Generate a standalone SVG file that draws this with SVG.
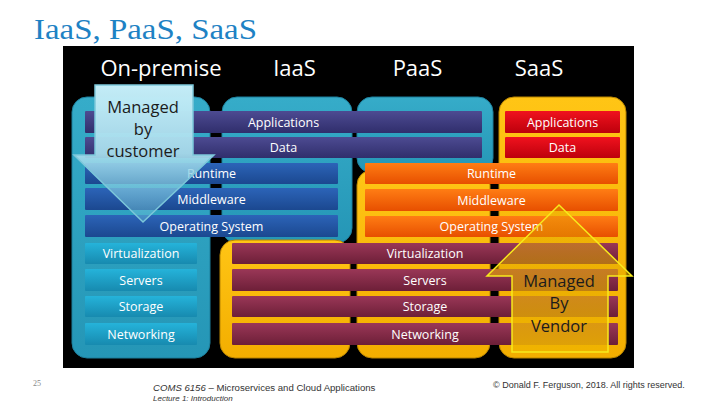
<svg xmlns="http://www.w3.org/2000/svg" width="720" height="405" viewBox="0 0 720 405">
<defs>
<linearGradient id="gTealBox" x1="0" y1="0" x2="0" y2="1"><stop offset="0" stop-color="#36acc9"/><stop offset="1" stop-color="#2596b6"/></linearGradient>
<linearGradient id="gYellowBox" x1="0" y1="0" x2="0" y2="1"><stop offset="0" stop-color="#ffc515"/><stop offset="1" stop-color="#f3ae00"/></linearGradient>
<linearGradient id="gPurple" x1="0" y1="0" x2="0" y2="1"><stop offset="0" stop-color="#4d4b92"/><stop offset="1" stop-color="#302e6c"/></linearGradient>
<linearGradient id="gBlue" x1="0" y1="0" x2="0" y2="1"><stop offset="0" stop-color="#2c64b8"/><stop offset="1" stop-color="#1b4890"/></linearGradient>
<linearGradient id="gTealBar" x1="0" y1="0" x2="0" y2="1"><stop offset="0" stop-color="#25b3da"/><stop offset="1" stop-color="#178aaf"/></linearGradient>
<linearGradient id="gOrange" x1="0" y1="0" x2="0" y2="1"><stop offset="0" stop-color="#ff7d14"/><stop offset="1" stop-color="#e74f00"/></linearGradient>
<linearGradient id="gRed" x1="0" y1="0" x2="0" y2="1"><stop offset="0" stop-color="#f0121e"/><stop offset="1" stop-color="#bd000c"/></linearGradient>
<linearGradient id="gMaroon" x1="0" y1="0" x2="0" y2="1"><stop offset="0" stop-color="#9a3757"/><stop offset="1" stop-color="#6d1f38"/></linearGradient>
<linearGradient id="gCust" x1="0" y1="0" x2="0" y2="1"><stop offset="0" stop-color="#c4edf7" stop-opacity="1"/><stop offset="0.5" stop-color="#a6dcec" stop-opacity="0.95"/><stop offset="1" stop-color="#5eb6d2" stop-opacity="0.45"/></linearGradient>
<linearGradient id="gVend" x1="0" y1="0" x2="0" y2="1"><stop offset="0" stop-color="#e0a800" stop-opacity="0.3"/><stop offset="0.45" stop-color="#e6ac00" stop-opacity="0.6"/><stop offset="1" stop-color="#f0b400" stop-opacity="0.9"/></linearGradient>
</defs>
<style>
.title{font-family:"Liberation Serif","DejaVu Serif",serif;font-size:29px;fill:#1e82c4}
.hdr{font-family:"Open Sans","Noto Sans",sans-serif;font-size:22px;fill:#ffffff;text-anchor:middle}
.lbl{font-family:"Open Sans","Noto Sans",sans-serif;font-size:12.5px;fill:#ffffff;text-anchor:middle}
.arr{font-family:"Open Sans","Noto Sans",sans-serif;font-size:16.5px;fill:#1b1b1b;text-anchor:middle}
.tealbox{fill:url(#gTealBox);stroke:#1d7f9c;stroke-width:1}
.yelbox{fill:url(#gYellowBox);stroke:#b88400;stroke-width:1}
.foot{font-family:"Liberation Sans","Arial",sans-serif;fill:#333333}
</style>
<rect width="720" height="405" fill="#ffffff"/>
<text class="title" x="34" y="39" textLength="223" lengthAdjust="spacingAndGlyphs">IaaS, PaaS, SaaS</text>
<rect id="panel" x="63" y="46" width="571" height="322" fill="#000000"/>

<g id="headers">
<text class="hdr" x="161" y="76">On-premise</text>
<text class="hdr" x="294.5" y="76">IaaS</text>
<text class="hdr" x="417.5" y="76">PaaS</text>
<text class="hdr" x="539" y="76">SaaS</text>
</g>

<g id="containers">
<rect id="onprem-box" class="tealbox" x="72" y="97" width="138" height="261" rx="15"/>
<rect id="iaas-top" class="tealbox" x="222" y="97" width="130" height="146" rx="15"/>
<rect id="iaas-bottom" class="yelbox" x="220" y="240" width="130" height="118" rx="15"/>
<rect id="paas-top" class="tealbox" x="357" y="97" width="136" height="76" rx="15"/>
<rect id="paas-bottom" class="yelbox" x="357" y="170" width="133" height="188" rx="15"/>
<rect id="saas-box" class="yelbox" x="499" y="97" width="127" height="261" rx="15"/>
</g>

<g id="bars">
<g id="applications-shared"><rect x="85" y="111" width="397" height="22" rx="1" fill="url(#gPurple)"/><text class="lbl" x="283.5" y="126.5">Applications</text></g>
<g id="data-shared"><rect x="85" y="137" width="397" height="21" rx="1" fill="url(#gPurple)"/><text class="lbl" x="283.5" y="152">Data</text></g>
<g id="runtime-customer"><rect x="85" y="163" width="253" height="21" rx="1" fill="url(#gBlue)"/><text class="lbl" x="211.5" y="178">Runtime</text></g>
<g id="middleware-customer"><rect x="85" y="188" width="253" height="22" rx="1" fill="url(#gBlue)"/><text class="lbl" x="211.5" y="203.5">Middleware</text></g>
<g id="os-customer"><rect x="85" y="215" width="253" height="22" rx="1" fill="url(#gBlue)"/><text class="lbl" x="211.5" y="230.5">Operating System</text></g>
<g id="virt-onprem"><rect x="85" y="243" width="112" height="21" rx="1" fill="url(#gTealBar)"/><text class="lbl" x="141" y="258">Virtualization</text></g>
<g id="servers-onprem"><rect x="85" y="269" width="112" height="22" rx="1" fill="url(#gTealBar)"/><text class="lbl" x="141" y="284.5">Servers</text></g>
<g id="storage-onprem"><rect x="85" y="296" width="112" height="21" rx="1" fill="url(#gTealBar)"/><text class="lbl" x="141" y="311">Storage</text></g>
<g id="networking-onprem"><rect x="85" y="323" width="112" height="22" rx="1" fill="url(#gTealBar)"/><text class="lbl" x="141" y="338.5">Networking</text></g>
<g id="applications-saas"><rect x="505" y="111" width="115" height="22" rx="1" fill="url(#gRed)"/><text class="lbl" x="562.5" y="126.5">Applications</text></g>
<g id="data-saas"><rect x="505" y="137" width="115" height="21" rx="1" fill="url(#gRed)"/><text class="lbl" x="562.5" y="152">Data</text></g>
<g id="runtime-vendor"><rect x="365" y="163" width="253" height="21" rx="1" fill="url(#gOrange)"/><text class="lbl" x="491.5" y="178">Runtime</text></g>
<g id="middleware-vendor"><rect x="365" y="189" width="253" height="22" rx="1" fill="url(#gOrange)"/><text class="lbl" x="491.5" y="204.5">Middleware</text></g>
<g id="os-vendor"><rect x="365" y="216" width="253" height="21" rx="1" fill="url(#gOrange)"/><text class="lbl" x="491.5" y="231">Operating System</text></g>
<g id="virt-vendor"><rect x="232" y="243" width="386" height="21" rx="1" fill="url(#gMaroon)"/><text class="lbl" x="425" y="258">Virtualization</text></g>
<g id="servers-vendor"><rect x="232" y="269" width="386" height="22" rx="1" fill="url(#gMaroon)"/><text class="lbl" x="425" y="284.5">Servers</text></g>
<g id="storage-vendor"><rect x="232" y="296" width="386" height="21" rx="1" fill="url(#gMaroon)"/><text class="lbl" x="425" y="311">Storage</text></g>
<g id="networking-vendor"><rect x="232" y="323" width="386" height="22" rx="1" fill="url(#gMaroon)"/><text class="lbl" x="425" y="338.5">Networking</text></g>
</g>

<g id="connectors">
<g id="managed-by-customer">
<path d="M95,85 H193 V155 H214 L143,222 L74,155 H95 Z" fill="url(#gCust)" stroke="#7cc7da" stroke-width="1.5" stroke-linejoin="miter"/>
<text class="arr" x="143" y="113">Managed</text>
<text class="arr" x="143" y="135">by</text>
<text class="arr" x="143" y="157">customer</text>
</g>
<g id="managed-by-vendor">
<path d="M559,205 L632,276 H608 V352 H512 V276 H487 Z" fill="url(#gVend)" stroke="#f7ea1c" stroke-width="1.5" stroke-linejoin="miter"/>
<text class="arr" x="559" y="287">Managed</text>
<text class="arr" x="559" y="309">By</text>
<text class="arr" x="559" y="332">Vendor</text>
</g>
</g>

<g id="footer">
<text x="33" y="386" font-family="Liberation Serif, serif" font-size="8" fill="#888888">25</text>
<text class="foot" x="153" y="391" font-size="9.6"><tspan font-style="italic">COMS 6156</tspan> – Microservices and Cloud Applications</text>
<text class="foot" x="153" y="401" font-size="8" font-style="italic">Lecture 1: Introduction</text>
<text class="foot" x="493" y="388" font-size="9" fill="#555555">© Donald F. Ferguson, 2018. All rights reserved.</text>
</g>
</svg>
